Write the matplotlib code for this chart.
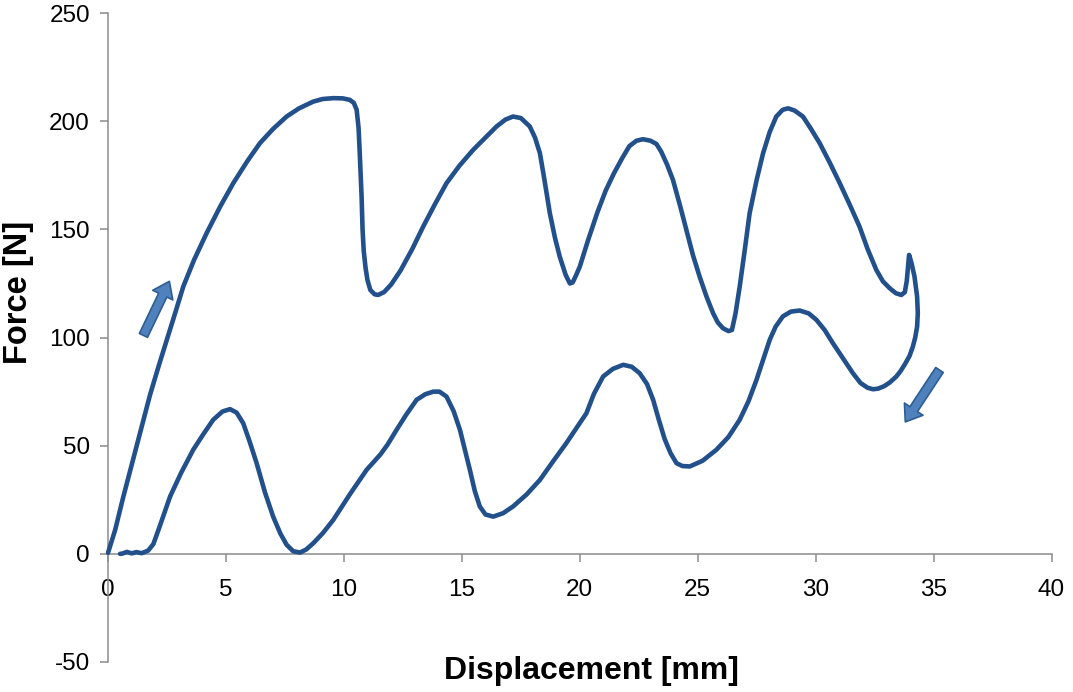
import matplotlib
matplotlib.use("Agg")
import matplotlib.pyplot as plt
from matplotlib.patches import FancyArrowPatch
import numpy as np

plt.rcParams['font.family'] = ['Liberation Sans', 'DejaVu Sans']
plt.rcParams['axes.unicode_minus'] = False

# loading branch
disp_load = [0.0, 0.3, 0.65, 1.0, 1.4, 1.78, 2.15, 2.49, 2.85, 3.19, 3.65, 4.18,
             4.75, 5.31, 5.9, 6.44, 7.0, 7.57, 8.1, 8.7, 9.1, 9.55, 9.95, 10.25,
             10.42, 10.54, 10.62, 10.66, 10.71, 10.75, 10.79, 10.84, 10.92, 11.0,
             11.12, 11.3, 11.45, 11.7, 12.0, 12.4, 12.9, 13.36, 13.85, 14.35, 14.9,
             15.48, 16.0, 16.47, 16.85, 17.17, 17.5, 17.88, 18.1, 18.31, 18.5,
             18.73, 18.95, 19.15, 19.4, 19.58, 19.7, 19.85, 20.0, 20.35, 20.75,
             21.1, 21.45, 21.8, 22.1, 22.4, 22.68, 23.0, 23.25, 23.45, 23.7, 23.95,
             24.25, 24.52, 24.8, 25.08, 25.37, 25.65, 25.85, 26.07, 26.3, 26.45,
             26.6, 26.78, 27.0, 27.2, 27.5, 27.77, 28.05, 28.33, 28.6, 28.83, 29.1,
             29.46, 29.8, 30.17, 30.6, 31.02, 31.45, 31.86, 32.2, 32.57, 32.85,
             33.14, 33.4, 33.63, 33.78, 33.86, 33.92, 33.96, 34.05, 34.19, 34.3,
             34.33]
force_load = [0.5, 11.0, 26.5, 41.0, 57.5, 73.5, 87.0, 98.9, 111.5, 123.6, 136.0, 148.3,
              160.5, 171.4, 181.5, 189.9, 196.5, 202.2, 206.0, 209.1, 210.3, 210.7,
              210.6, 209.9, 208.5, 205.3, 197.0, 188.0, 175.0, 165.0, 150.0, 140.0,
              132.0, 126.5, 122.0, 120.0, 119.7, 121.0, 124.5, 131.0, 141.0, 151.3,
              161.5, 171.4, 179.5, 186.8, 192.5, 197.6, 200.8, 202.2, 201.5, 197.6,
              192.5, 185.2, 173.0, 157.5, 146.0, 137.4, 129.0, 125.0, 125.5, 129.0,
              132.8, 145.0, 158.0, 168.0, 176.0, 183.0, 188.5, 191.0, 191.7, 191.0,
              189.5, 186.0, 180.0, 172.9, 161.0, 149.8, 138.0, 128.2, 119.0, 111.3,
              107.0, 104.3, 103.0, 103.5, 111.0, 123.6, 141.0, 157.5, 173.0, 185.2,
              195.0, 202.2, 205.3, 206.0, 205.0, 202.2, 196.5, 189.9, 180.8, 171.4,
              161.3, 151.3, 141.0, 131.3, 126.0, 122.8, 120.5, 119.7, 121.0, 126.0,
              133.0, 138.2, 135.0, 128.2, 119.0, 111.3]

# unloading branch
disp_unload = [34.3, 34.22, 34.12, 33.98, 33.8, 33.6, 33.42, 33.15, 32.9, 32.65,
               32.43, 32.2, 31.9, 31.58, 31.15, 30.73, 30.38, 30.03, 29.7, 29.32,
               28.95, 28.61, 28.3, 28.05, 27.78, 27.49, 27.15, 26.78, 26.3, 25.79,
               25.2, 24.66, 24.35, 24.1, 23.85, 23.6, 23.35, 23.11, 22.85, 22.54,
               22.2, 21.84, 21.4, 20.99, 20.6, 20.28, 19.85, 19.43, 18.85, 18.31,
               17.75, 17.17, 16.75, 16.33, 16.0, 15.76, 15.55, 15.34, 15.12, 14.92,
               14.65, 14.35, 14.05, 13.79, 13.45, 13.08, 12.65, 12.23, 11.85, 11.55,
               10.96, 10.25, 9.55, 9.1, 8.7, 8.4, 8.14, 7.85, 7.57, 7.3, 7.0, 6.65,
               6.3, 6.0, 5.73, 5.45, 5.17, 4.85, 4.46, 4.05, 3.61, 3.1, 2.63, 2.2,
               1.92, 1.7, 1.43, 1.2, 1.0, 0.8, 0.6, 0.51]
force_unload = [105.0, 100.0, 95.8, 91.5, 88.0, 84.5, 82.0, 79.3, 77.5, 76.4,
                76.1, 76.8, 79.0, 83.5, 90.5, 97.4, 103.5, 108.2, 111.2, 112.5,
                112.0, 109.8, 105.0, 98.9, 90.0, 80.4, 70.5, 62.0, 54.0, 48.1,
                43.0, 40.4, 40.6, 41.9, 46.5, 53.0, 62.0, 71.2, 78.5, 83.5,
                86.5, 87.4, 85.5, 82.0, 74.0, 65.0, 58.0, 51.2, 42.5, 34.2,
                27.5, 21.9, 18.8, 17.2, 18.2, 21.9, 29.0, 38.8, 48.5, 57.3,
                66.0, 72.7, 75.0, 75.0, 73.8, 71.2, 64.5, 57.3, 50.5, 46.0,
                38.8, 27.5, 15.7, 9.5, 4.9, 2.0, 0.6, 1.2, 4.2, 9.5, 17.2, 28.5,
                41.9, 52.0, 60.4, 65.3, 66.9, 65.8, 62.0, 55.5, 48.1, 37.5, 26.5, 13.0,
                4.5, 1.5, 0.3, 0.8, 0.2, 0.9, 0.1, 0.0]

x_ticks = [0, 5, 10, 15, 20, 25, 30, 35, 40]
y_ticks = [-50, 0, 50, 100, 150, 200, 250]

disp = np.array(disp_load + disp_unload)
force = np.array(force_load + force_unload)

fig = plt.figure(figsize=(10.73, 6.92), dpi=100)
ax = fig.add_axes([0.1007, 0.0434, 0.8793, 0.9376])

ax.plot(disp, force, color='#22508a', lw=3.3, solid_joinstyle='round',
        solid_capstyle='round', clip_on=False, zorder=3)

# direction arrows
arrow_kw = dict(arrowstyle='simple,head_length=1.1,head_width=1.6,tail_width=0.65',
                mutation_scale=10, facecolor='#4f81bd', edgecolor='#2f5d92',
                lw=1.2, shrinkA=0, shrinkB=0, zorder=4)
ax.add_patch(FancyArrowPatch((1.5, 101), (2.6, 126), **arrow_kw))
ax.add_patch(FancyArrowPatch((35.25, 85), (33.8, 61), **arrow_kw))

ax.set_xlim(0, 40)
ax.set_ylim(-50, 250)
ax.set_xticks(x_ticks)
ax.set_yticks(y_ticks)

for s in ['top', 'right']:
    ax.spines[s].set_visible(False)
ax.spines['bottom'].set_position(('data', 0))
for s in ['left', 'bottom']:
    ax.spines[s].set_color('#8c8c8c')
    ax.spines[s].set_linewidth(1.1)

ax.tick_params(axis='both', direction='out', length=6, width=1.1, color='#8c8c8c',
               labelsize=17.5, labelcolor='black')
ax.tick_params(axis='y', pad=7)
ax.tick_params(axis='x', pad=12)

ax.set_xlabel('Displacement [mm]', fontsize=23, fontweight='bold')
ax.set_ylabel('Force [N]', fontsize=23.5, fontweight='bold')
ax.xaxis.set_label_coords(0.512, 0.009)
ax.yaxis.set_label_coords(-0.079, 0.569)

fig.savefig('out.png', dpi=100)
